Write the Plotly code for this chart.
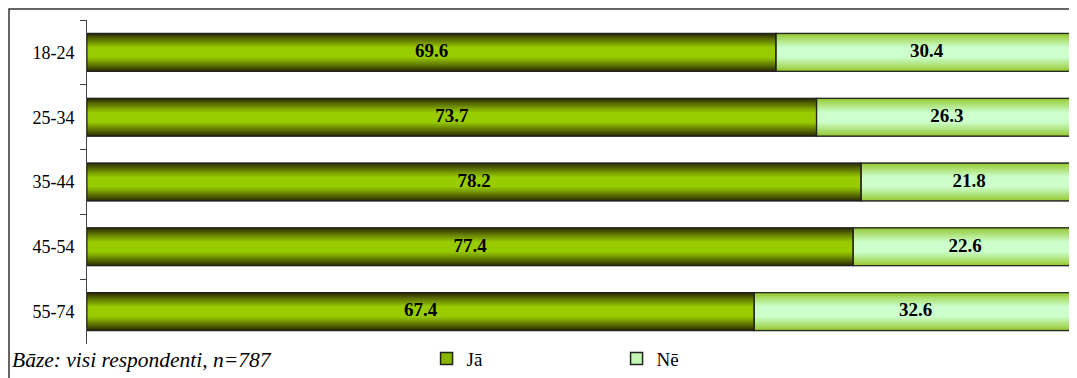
import plotly.graph_objects as go

categories = ["18-24", "25-34", "35-44", "45-54", "55-74"]
ja = [69.6, 73.7, 78.2, 77.4, 67.4]
ne = [30.4, 26.3, 21.8, 22.6, 32.6]
series_names = ["Jā", "Nē"]
footnote = "Bāze: visi respondenti, n=787"

W = 0.58
N = 14

def mix(c1, c2, t):
    return "rgb(%d,%d,%d)" % tuple(round(a + (b - a) * t) for a, b in zip(c1, c2))

ja_edge, ja_mid = (45, 45, 0), (153, 204, 0)
ne_edge, ne_mid = (150, 200, 50), (204, 255, 204)

fig = go.Figure()

def add_series(name, vals, base, edge, mid):
    fig.add_trace(go.Bar(y=categories, x=vals, base=base, orientation="h", width=W,
                         name=name, marker=dict(color=mix(edge, mid, 0.85), line=dict(color="#222", width=1.5)),
                         showlegend=True, hoverinfo="skip"))
    for k in range(N):
        t = k / (N - 1)
        w = W * (1 - 0.72 * t)
        col = mix(edge, mid, t ** 0.9)
        fig.add_trace(go.Bar(y=categories, x=vals, base=base, orientation="h", width=w,
                             marker=dict(color=col, line=dict(width=0)),
                             showlegend=False, hoverinfo="skip"))

add_series(series_names[0], ja, [0] * len(ja), ja_edge, ja_mid)
add_series(series_names[1], ne, ja, ne_edge, ne_mid)

for vals, base in [(ja, [0] * len(ja)), (ne, ja)]:
    fig.add_trace(go.Bar(y=categories, x=vals, base=base, orientation="h", width=W,
                         marker=dict(color="rgba(0,0,0,0)", line=dict(color="#222", width=1)),
                         showlegend=False, hoverinfo="skip"))

lab_font = dict(family="Liberation Serif", size=19, color="black", weight="bold")
fig.add_trace(go.Scatter(y=categories, x=[v / 2 for v in ja], mode="text",
                         text=["%.1f" % v for v in ja], showlegend=False, textfont=lab_font))
fig.add_trace(go.Scatter(y=categories, x=[a + b / 2 for a, b in zip(ja, ne)], mode="text",
                         text=["%.1f" % v for v in ne], showlegend=False, textfont=lab_font))

fig.update_layout(
    width=1069, height=370,
    margin=dict(l=79, r=0, t=12, b=31),
    barmode="overlay",
    plot_bgcolor="white", paper_bgcolor="white",
    font=dict(family="Liberation Serif", size=18, color="black"),
    xaxis=dict(range=[0, 100], visible=False, fixedrange=True),
    yaxis=dict(autorange="reversed", type="category", showline=True, linecolor="#444", linewidth=1,
               ticks="outside", ticklen=6, tickcolor="#444", tickson="boundaries",
               ticklabelstandoff=8, showgrid=False, tickfont=dict(size=18)),
    legend=dict(orientation="h", x=0.343, xanchor="left", y=-0.045, yanchor="middle",
                entrywidth=145, font=dict(size=19), bgcolor="rgba(0,0,0,0)"),
    showlegend=True,
)

fig.add_annotation(text="<i>" + footnote + "</i>", xref="paper", yref="paper",
                   x=(2 - 79) / 990, y=(339 - 355) / 327, xanchor="left", yanchor="middle",
                   showarrow=False, font=dict(size=21.5, family="Liberation Serif"))

fig.add_shape(type="rect", xref="paper", yref="paper",
              x0=(1 - 79) / 990, x1=1.02, y0=-0.3, y1=(339 - 1) / 327,
              line=dict(color="#333", width=1.5), fillcolor="rgba(0,0,0,0)", layer="above")

fig.write_html("out.html")
